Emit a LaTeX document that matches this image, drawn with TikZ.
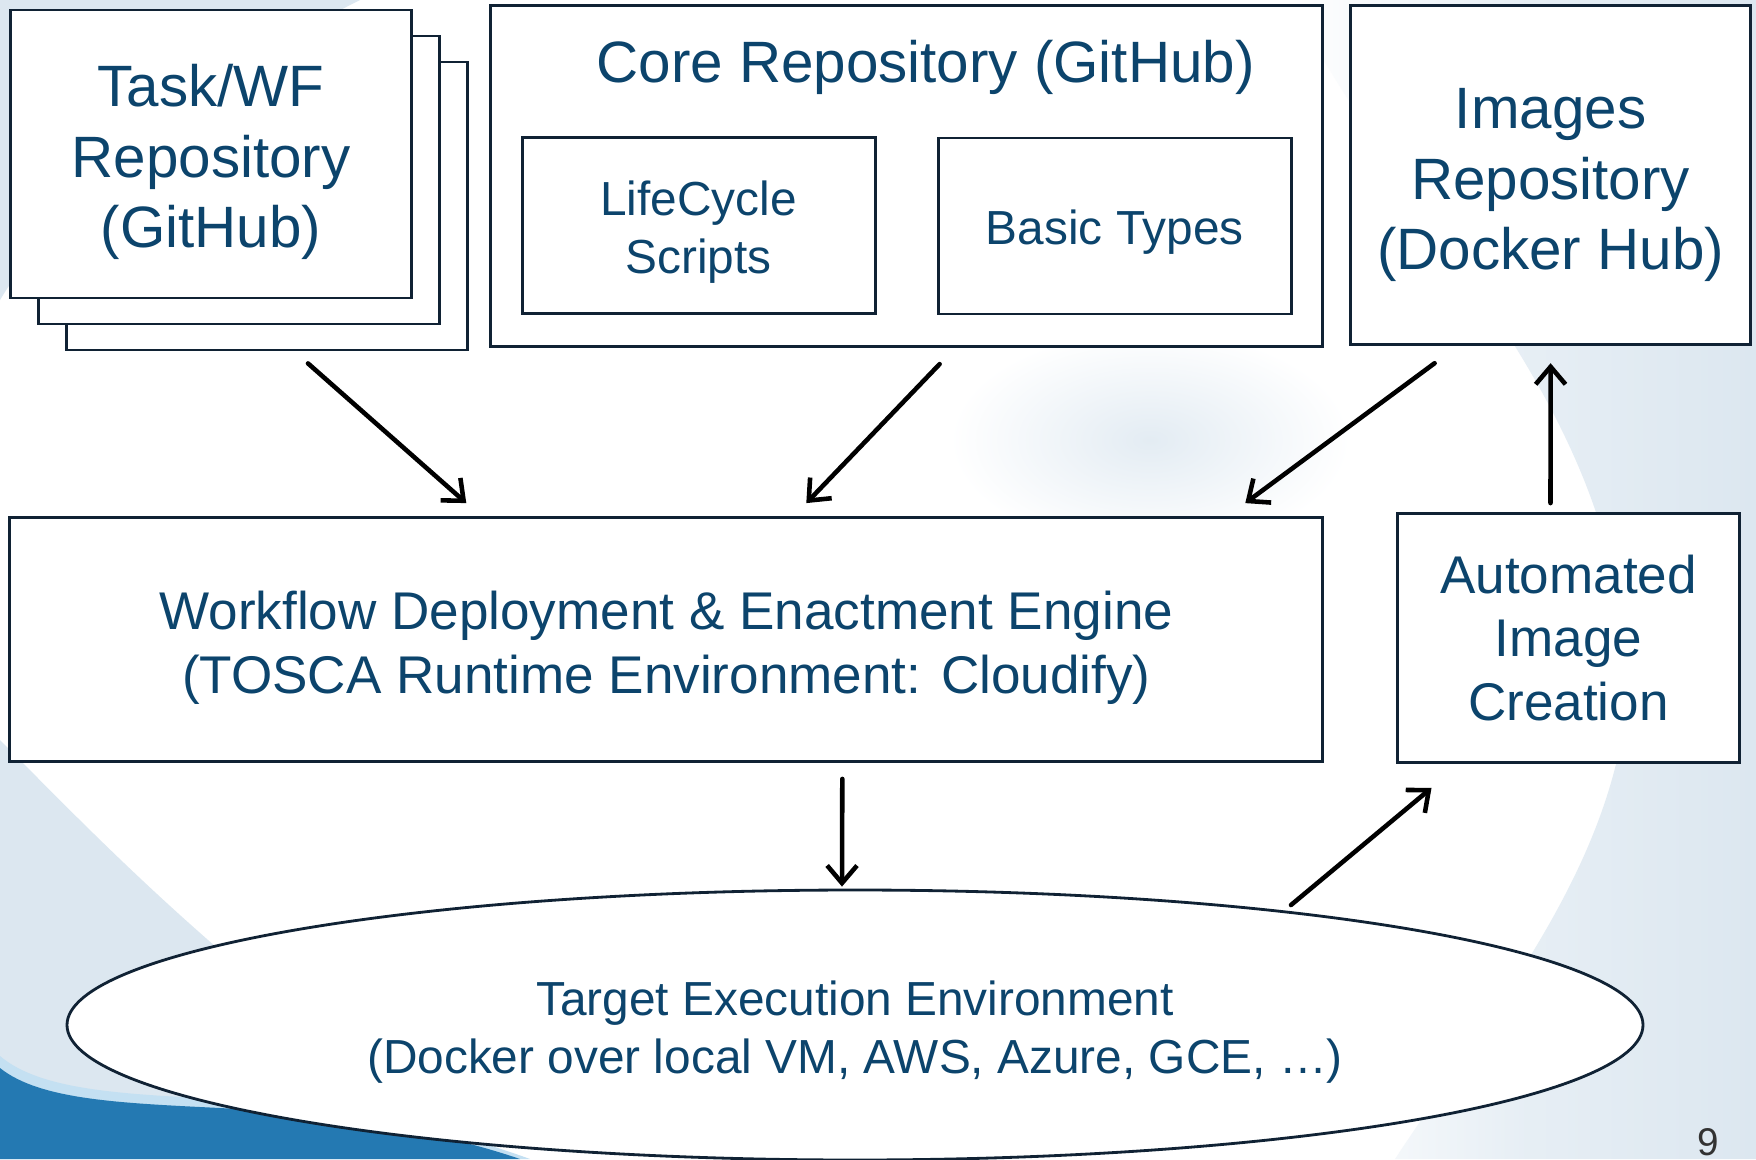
\documentclass[tikz,border=0pt]{standalone}
\usepackage{fontspec}
\setmainfont{Liberation Sans}
\usetikzlibrary{arrows.meta,positioning,calc,shapes.geometric}
\definecolor{navy}{RGB}{12,68,108}
\definecolor{boxline}{RGB}{16,34,52}
\definecolor{bgblue}{RGB}{220,231,240}
\definecolor{bandblue}{RGB}{36,121,178}
\definecolor{bandlight}{RGB}{196,224,242}

\begin{document}
\begin{tikzpicture}[x=0.1mm, y=-0.1mm,
    box/.style={draw=boxline, line width=0.8pt, fill=white, inner sep=0pt},
    lbl/.style={text=navy, align=center, inner sep=0pt},
    big/.style={lbl, font=\fontsize{16.6}{20.1}\selectfont},
    mid/.style={lbl, font=\fontsize{15.1}{18.1}\selectfont},
    small/.style={lbl, font=\fontsize{13.6}{16.5}\selectfont},
    arr/.style={-{Straight Barb[length=5pt,width=8.5pt]}, line width=1.3pt, line cap=round}]
    \useasboundingbox (0,0) rectangle (1756,1159);
    % background
    \fill[white] (0,0) rectangle (1756,1159);
    \fill[bgblue] (0,0) -- (360,0) .. controls (200,80) and (60,200) .. (0,300) -- cycle;
    \fill[bgblue] (0,740) .. controls (100,840) and (250,1000) .. (500,1159) -- (0,1159) -- cycle;
    \fill[bandlight] (0,1056) .. controls (40,1090) and (120,1094) .. (220,1099) .. controls (350,1106) and (450,1130) .. (530,1159) -- (0,1159) -- cycle;
    \fill[bandblue] (0,1068) .. controls (40,1100) and (120,1103) .. (220,1108) .. controls (350,1115) and (450,1135) .. (520,1159) -- (0,1159) -- cycle;
    \shade[left color=white, right color=bgblue, middle color=bgblue!70]
        (1290,0) -- (1756,0) -- (1756,1159) -- (1395,1159) .. controls (1500,1000) and (1600,880) .. (1625,720)
        .. controls (1640,420) and (1420,250) .. (1290,0) -- cycle;
    \shade[inner color=bgblue!80, outer color=white] (1150,440) ellipse (200 and 110);

    % repositories
    \foreach \i in {2,1}
        \node[box, minimum width=40.1mm, minimum height=28.8mm] (task\i) at ({211+28*\i},{154+26*\i}) {};
    \node[box, minimum width=40.1mm, minimum height=28.8mm] (task0) at (211,154) {};
    \node[big] (tasktext) at ($(task0)+(0,8)$) {Task/WF\\Repository\\(GitHub)};
    \node[box, minimum width=83.2mm, minimum height=34.1mm] (core) at (906.6,176.2) {};
    \node[big, anchor=base] (coretitle) at (925.6,82.7) {Core Repository (GitHub)};
    \node[box, minimum width=35.3mm, minimum height=17.6mm] (life) at (698.7,225.3) {};
    \node[small] (lifetext) at ($(life)+(0,7)$) {LifeCycle\\Scripts};
    \node[box, minimum width=35.3mm, minimum height=17.6mm] (basic) at (1114.8,226) {};
    \node[small] (basictext) at ($(basic)+(0,6)$) {Basic Types};
    \node[box, minimum width=40mm, minimum height=33.9mm] (images) at (1550.6,175.3) {};
    \node[big] (imagestext) at ($(images)+(0,10)$) {Images\\Repository\\(Docker Hub)};

    % engine and image creation
    \node[box, minimum width=131.3mm, minimum height=24.4mm] (engine) at (666.3,639.5) {};
    \node[mid] (enginetext) at ($(engine)+(0,8)$) {Workflow Deployment \& Enactment Engine\\(TOSCA Runtime Environment: Cloudify)};
    \node[box, mid, minimum width=34.2mm, minimum height=24.9mm] (auto) at (1568.5,638) {Automated\\Image\\Creation};
    \node[box, ellipse, minimum width=157.6mm, minimum height=27mm] (target) at (855,1025) {};
    \node[small] (targettext) at ($(target)+(0,7)$) {Target Execution Environment\\(Docker over local VM, AWS, Azure, GCE, \dots)};
    \node[font=\fontsize{11}{13}\selectfont, text=black!80, anchor=south, inner sep=0pt] (pagenum) at (1708,1157) {9};

    % flows
    \draw[arr] ($(task2.south)+(41,12)$) -- ($(engine.north)+(-200,-13)$);
    \draw[arr] ($(core.south)+(33,16)$) -- ($(engine.north)+(140,-13)$);
    \draw[arr] ($(images.south)+(-116,17)$) -- ($(engine.north)+(579,-13)$);
    \draw[arr] ($(engine.south)+(176,16)$) -- ($(target.north)+(-13,-2)$);
    \draw[arr] ($(target.center)+(436,-120)$) -- ($(auto.south)+(-137,24)$);
    \draw[arr] ($(auto.north)+(-18,-9)$) -- ($(images.south)+(0,17)$);
\end{tikzpicture}
\end{document}
